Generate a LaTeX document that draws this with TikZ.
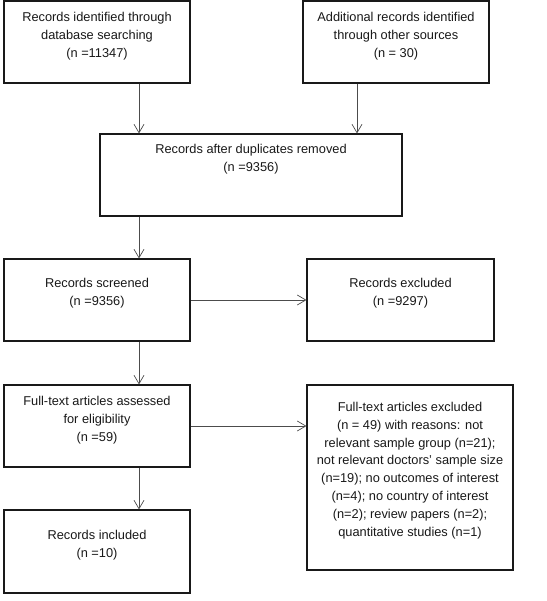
\documentclass[tikz,border=0pt]{standalone}
\usepackage{fontspec}
\setmainfont{Liberation Sans}
\usetikzlibrary{arrows.meta,calc}
\begin{document}
\begin{tikzpicture}[x=1pt,y=-1pt,
  box/.style={draw=black!90,line width=1.1pt,rectangle,inner sep=0pt},
  txt/.style={anchor=north,align=center,inner sep=0pt,text=black!90,font=\fontsize{12.8}{17.8}\selectfont},
  arr/.style={draw=black!70,line width=0.7pt,-{Straight Barb[length=8.5pt,width=10pt]}}]
\useasboundingbox (0,0) rectangle (546,601);
\fill[white] (0,0) rectangle (546,601);
\node[box,minimum width=186,minimum height=82] (b1) at (97,42) {};
\node[box,minimum width=186,minimum height=82] (b2) at (396,42) {};
\node[box,minimum width=302,minimum height=82] (b3) at (251,175) {};
\node[box,minimum width=186,minimum height=82] (b4) at (97,300) {};
\node[box,minimum width=187,minimum height=82] (b5) at (400.5,300) {};
\node[box,minimum width=186,minimum height=82] (b6) at (97,426) {};
\node[box,minimum width=206,minimum height=185] (b7) at (410,477.5) {};
\node[box,minimum width=186,minimum height=83] (b8) at (97,551.5) {};

\node[txt] (t1) at ($(b1.north)+(0,11.5)$) {Records identified through\\database searching\\(n =11347)};
\node[txt] (t2) at ($(b2.north)+(0,11.5)$) {Additional records identified\\through other sources\\(n = 30)};
\node[txt] (t3) at ($(b3.north)+(0,10.5)$) {Records after duplicates removed\\(n =9356)};
\node[txt] (t4) at ($(b4.north)+(0,19.5)$) {Records screened\\(n =9356)};
\node[txt] (t5) at ($(b5.north)+(0,19.5)$) {Records excluded\\(n =9297)};
\node[txt] (t6) at ($(b6.north)+(0,11.5)$) {Full-text articles assessed\\for eligibility\\(n =59)};
\node[txt] (t7) at ($(b7.north)+(0,17.5)$) {Full-text articles excluded\\(n = 49) with reasons: not\\relevant sample group (n=21);\\not relevant doctors' sample size\\(n=19); no outcomes of interest\\(n=4); no country of interest\\(n=2); review papers (n=2);\\quantitative studies (n=1)};
\node[txt] (t8) at ($(b8.north)+(0,20.5)$) {Records included\\(n =10)};

\coordinate (c1) at (139,0);
\coordinate (c2) at (357,0);
\draw[arr] (b1.south -| c1) -- (b3.north -| c1);
\draw[arr] (b2.south -| c2) -- (b3.north -| c2);
\draw[arr] (b3.south -| c1) -- (b4.north -| c1);
\draw[arr] (b4.east) -- (b5.west);
\draw[arr] (b4.south -| c1) -- (b6.north -| c1);
\draw[arr] (b6.east) -- (b7.west |- b6.east);
\draw[arr] (b6.south -| c1) -- (b8.north -| c1);
\end{tikzpicture}
\end{document}
